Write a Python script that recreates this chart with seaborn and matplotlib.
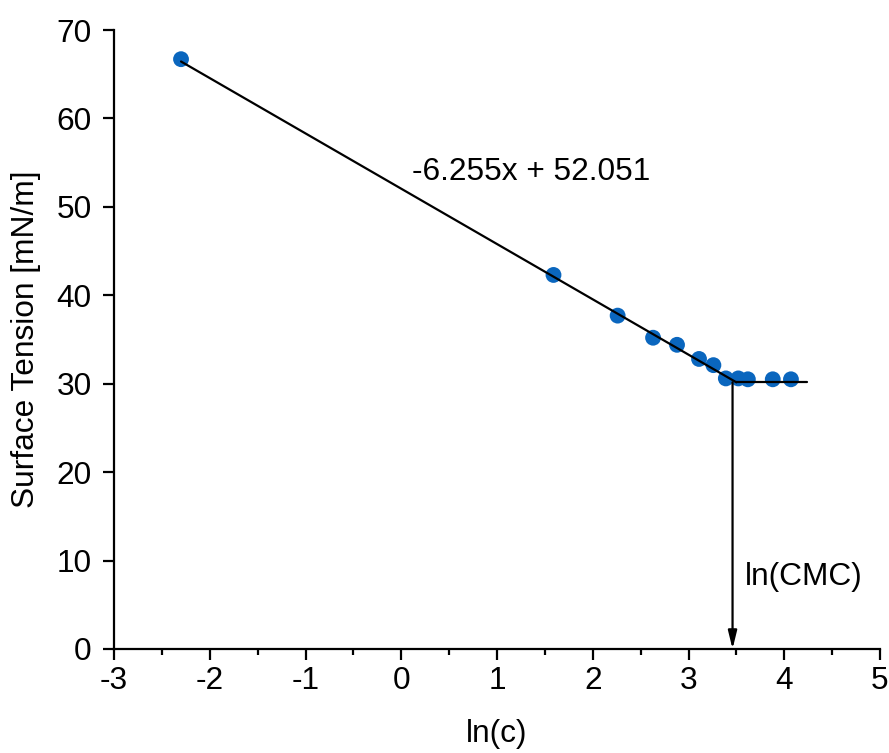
import matplotlib
matplotlib.use("Agg")
import matplotlib.pyplot as plt
import seaborn as sns
import numpy as np
import pandas as pd
from matplotlib.ticker import MultipleLocator

# Data
ln_c = [-2.30, 1.59, 2.26, 2.63, 2.88, 3.11, 3.26, 3.39, 3.52, 3.62, 3.88, 4.07]
surface_tension = [66.7, 42.3, 37.7, 35.2, 34.4, 32.8, 32.1, 30.6, 30.6, 30.5, 30.5, 30.5]
slope = -6.255
intercept = 52.051
plateau = 30.16
fit_x = [-2.30, 3.50]
plateau_x = [3.50, 4.24]
ln_cmc = 3.46
equation_label = "-6.255x + 52.051"
cmc_label = "ln(CMC)"
x_label = "ln(c)"
y_label = "Surface Tension [mN/m]"

sns.set_theme(style="ticks")
plt.rcParams['font.family'] = ['Liberation Sans', 'DejaVu Sans']
plt.rcParams['axes.unicode_minus'] = False
plt.rcParams['text.color'] = 'black'
plt.rcParams['axes.labelcolor'] = 'black'
plt.rcParams['xtick.color'] = 'black'
plt.rcParams['ytick.color'] = 'black'

fig = plt.figure(figsize=(8.89, 7.53), dpi=100)
ax = fig.add_axes([114/889, 1-649/753, (880-114)/889, (649-30)/753])

fit_df = pd.DataFrame({"x": fit_x, "y": [slope*v + intercept for v in fit_x]})
sns.lineplot(data=fit_df, x="x", y="y", ax=ax, color="black", linewidth=1.6, zorder=3)
plat_df = pd.DataFrame({"x": plateau_x, "y": [plateau, plateau]})
sns.lineplot(data=plat_df, x="x", y="y", ax=ax, color="black", linewidth=1.6, zorder=3)

df = pd.DataFrame({"ln_c": ln_c, "st": surface_tension})
sns.scatterplot(data=df, x="ln_c", y="st", ax=ax, color="#0A66BE", s=130,
                edgecolor="none", zorder=2)

ax.annotate("", xy=(ln_cmc, 0), xytext=(ln_cmc, plateau),
            arrowprops=dict(arrowstyle="-|>,head_length=0.9,head_width=0.22",
                            color="black", lw=1.6, shrinkA=0, shrinkB=0),
            zorder=4)

ax.text(0.115, 53.9, equation_label, fontsize=22.8, va="center", ha="left")
ax.text(3.593, 8.1, cmc_label, fontsize=22.8, va="center", ha="left")

ax.set_xlim(-3, 5)
ax.set_ylim(0, 70)
ax.xaxis.set_major_locator(MultipleLocator(1))
ax.xaxis.set_minor_locator(MultipleLocator(0.5))
ax.yaxis.set_major_locator(MultipleLocator(10))
ax.tick_params(axis="both", which="major", direction="out", length=8, width=1.6,
               labelsize=22.8, color="black", labelcolor="black")
ax.tick_params(axis="x", which="major", pad=4)
ax.tick_params(axis="y", which="major", pad=8)
ax.tick_params(axis="x", which="minor", direction="out", length=4.5, width=1.6, color="black")
ax.set_xlabel(x_label, fontsize=22.8, labelpad=17, color="black")
ax.set_ylabel(y_label, fontsize=22.8, labelpad=11, color="black")
for s in ["top", "right"]:
    ax.spines[s].set_visible(False)
for s in ["left", "bottom"]:
    ax.spines[s].set_linewidth(1.6)
    ax.spines[s].set_color("black")
ax.set_facecolor("white")

fig.savefig("out.png", dpi=100, facecolor="white")
